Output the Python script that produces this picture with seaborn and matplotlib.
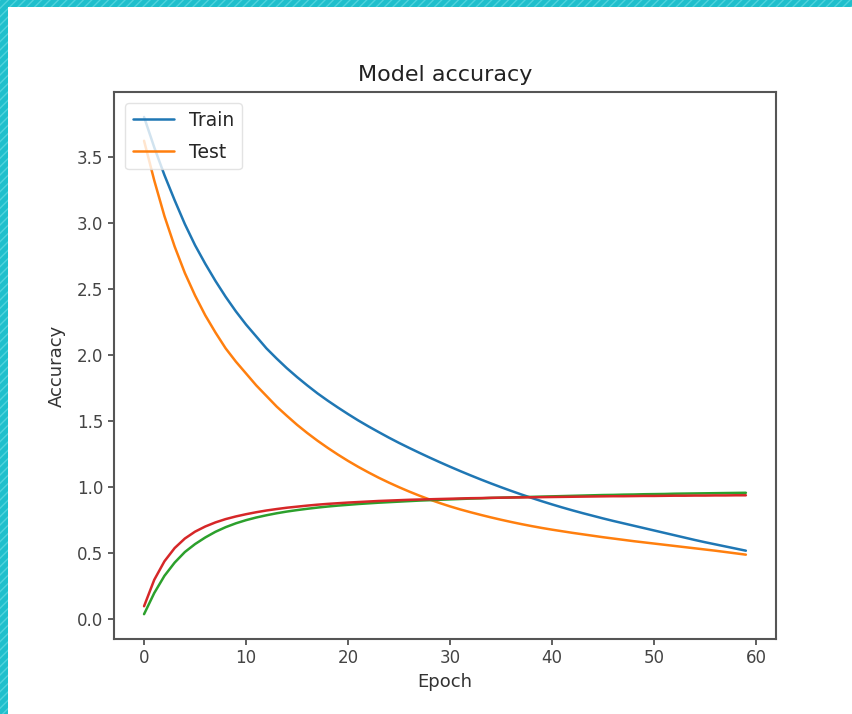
import numpy as np
import pandas as pd
import seaborn as sns
import matplotlib
matplotlib.use("Agg")
import matplotlib.pyplot as plt
from matplotlib.patches import Rectangle

# ==========================================================
# Data
# ==========================================================

epochs = list(range(60))

train = [3.80, 3.57, 3.36, 3.17, 2.99, 2.83, 2.69, 2.56, 2.44, 2.33,
         2.23, 2.14, 2.05, 1.973, 1.90, 1.833, 1.77, 1.71, 1.655, 1.603,
         1.553, 1.505, 1.46, 1.417, 1.375, 1.335, 1.297, 1.26, 1.224, 1.189,
         1.155, 1.122, 1.09, 1.059, 1.029, 1.00, 0.972, 0.945, 0.919, 0.894,
         0.87, 0.847, 0.825, 0.804, 0.784, 0.764, 0.745, 0.727, 0.709, 0.691,
         0.673, 0.655, 0.637, 0.619, 0.601, 0.584, 0.568, 0.552, 0.536, 0.52]

test = [3.62, 3.32, 3.05, 2.82, 2.62, 2.45, 2.30, 2.17, 2.05, 1.95,
        1.86, 1.77, 1.69, 1.61, 1.54, 1.472, 1.41, 1.352, 1.298, 1.247,
        1.199, 1.154, 1.112, 1.072, 1.035, 1.00, 0.967, 0.936, 0.907, 0.88,
        0.855, 0.832, 0.811, 0.791, 0.772, 0.754, 0.737, 0.721, 0.706, 0.692,
        0.679, 0.667, 0.655, 0.644, 0.633, 0.622, 0.612, 0.602, 0.592, 0.583,
        0.574, 0.565, 0.556, 0.547, 0.538, 0.529, 0.52, 0.51, 0.50, 0.49]

green = [0.04, 0.20, 0.33, 0.43, 0.51, 0.57, 0.62, 0.663, 0.698, 0.727,
         0.751, 0.771, 0.788, 0.803, 0.816, 0.827, 0.837, 0.846, 0.854, 0.861,
         0.867, 0.873, 0.878, 0.883, 0.887, 0.891, 0.895, 0.899, 0.902, 0.905,
         0.908, 0.911, 0.914, 0.916, 0.919, 0.921, 0.923, 0.925, 0.927, 0.929,
         0.931, 0.933, 0.935, 0.937, 0.939, 0.941, 0.942, 0.944, 0.945, 0.947,
         0.948, 0.949, 0.951, 0.952, 0.953, 0.954, 0.955, 0.956, 0.957, 0.958]

red = [0.10, 0.30, 0.44, 0.54, 0.612, 0.664, 0.703, 0.734, 0.759, 0.779,
       0.796, 0.811, 0.824, 0.835, 0.845, 0.853, 0.861, 0.868, 0.874, 0.879,
       0.884, 0.888, 0.892, 0.896, 0.899, 0.902, 0.905, 0.907, 0.909, 0.911,
       0.913, 0.915, 0.917, 0.918, 0.92, 0.921, 0.922, 0.923, 0.924, 0.925,
       0.926, 0.927, 0.928, 0.929, 0.93, 0.931, 0.932, 0.932, 0.933, 0.934,
       0.934, 0.935, 0.936, 0.936, 0.937, 0.937, 0.938, 0.938, 0.939, 0.939]

df = pd.DataFrame({"epoch": epochs, "train": train, "test": test,
                   "green": green, "red": red})

# ==========================================================
# Plot
# ==========================================================

sns.set_style("ticks")
plt.rcParams["font.family"] = ["DejaVu Sans"]

fig = plt.figure(figsize=(8.53, 7.14), dpi=100)
fig.patch.set_facecolor("white")

# teal frame strips (top and left)
fig.add_artist(Rectangle((0, 1 - 7 / 714), 1, 7 / 714, transform=fig.transFigure,
                         facecolor="#1fbfcc", edgecolor="#4fd3dc", hatch="////",
                         linewidth=0))
fig.add_artist(Rectangle((0, 0), 8 / 853, 1, transform=fig.transFigure,
                         facecolor="#1fbfcc", edgecolor="#4fd3dc", hatch="////",
                         linewidth=0))

ax = fig.add_axes([0.1336, 0.105, 0.7761, 0.766])

sns.lineplot(data=df, x="epoch", y="train", color="#1f77b4", linewidth=1.8, label="Train", ax=ax)
sns.lineplot(data=df, x="epoch", y="test", color="#ff7f0e", linewidth=1.8, label="Test", ax=ax)
sns.lineplot(data=df, x="epoch", y="green", color="#2ca02c", linewidth=1.8, legend=False, ax=ax)
sns.lineplot(data=df, x="epoch", y="red", color="#d62728", linewidth=1.8, legend=False, ax=ax)

ax.set_title("Model accuracy", fontsize=16, color="#222222", pad=8)
ax.set_xlabel("Epoch", fontsize=13, color="#333333")
ax.set_ylabel("Accuracy", fontsize=13, color="#333333", labelpad=8)
ax.set_xticks([0, 10, 20, 30, 40, 50, 60])
ax.set_yticks([0.0, 0.5, 1.0, 1.5, 2.0, 2.5, 3.0, 3.5])
ax.tick_params(labelsize=12, colors="#444444", width=1.2, length=4)
for s in ax.spines.values():
    s.set_visible(True)
    s.set_color("#555555")
    s.set_linewidth(1.5)

ax.legend(loc="upper left", fontsize=13.5, frameon=True,
          edgecolor="#dddddd", framealpha=0.8, borderaxespad=0.6,
          labelspacing=0.7, handlelength=2.2)

plt.savefig("out.png", dpi=100, facecolor=fig.get_facecolor())
